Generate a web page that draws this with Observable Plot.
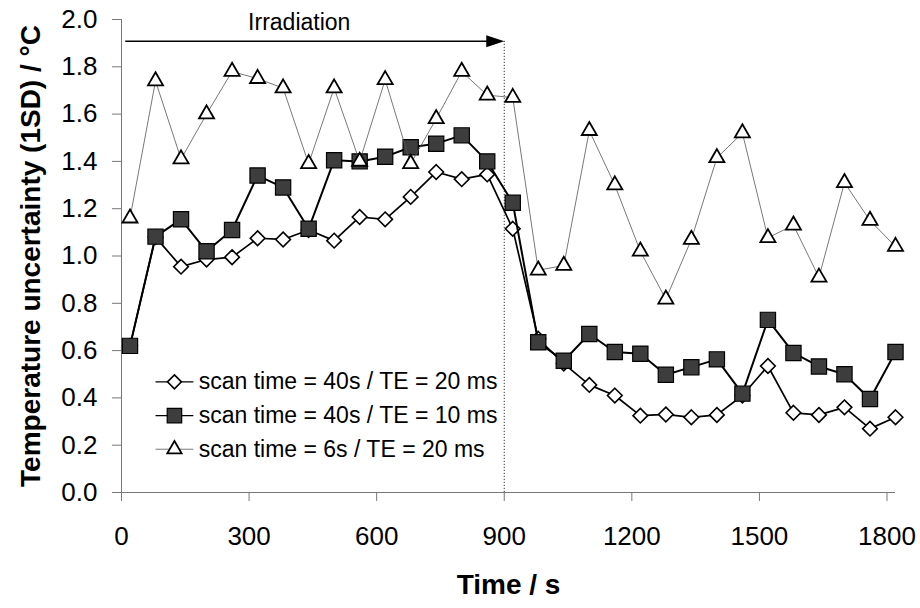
<!DOCTYPE html>
<html><head><meta charset="utf-8">
<script src="https://cdn.jsdelivr.net/npm/d3@7"></script>
<script src="https://cdn.jsdelivr.net/npm/@observablehq/plot@0.6"></script>
<style>body{margin:0;background:#fff}</style>
</head><body><div id="chart"></div>
<script>
// Time (s)
const times = [20, 80, 140, 200, 260, 320, 380, 440, 500, 560, 620, 680, 740, 800, 860, 920,
  980, 1040, 1100, 1160, 1220, 1280, 1340, 1400, 1460, 1520, 1580, 1640, 1700, 1760, 1820];
// scan time = 40s / TE = 20 ms (diamonds)
const te20_40s = [0.62, 1.08, 0.955, 0.985, 0.995, 1.075, 1.07, 1.11, 1.065, 1.165, 1.155, 1.25, 1.355, 1.325, 1.345, 1.115,
  0.65, 0.545, 0.455, 0.41, 0.325, 0.33, 0.318, 0.328, 0.41, 0.535, 0.337, 0.328, 0.36, 0.27, 0.318];
// scan time = 40s / TE = 10 ms (squares)
const te10_40s = [0.62, 1.082, 1.155, 1.02, 1.11, 1.34, 1.29, 1.115, 1.405, 1.40, 1.42, 1.46, 1.475, 1.51, 1.40, 1.225,
  0.635, 0.557, 0.67, 0.594, 0.587, 0.498, 0.53, 0.563, 0.418, 0.73, 0.59, 0.533, 0.50, 0.395, 0.594];
// scan time = 6s / TE = 20 ms (triangles)
const te20_6s = [1.16, 1.74, 1.41, 1.60, 1.78, 1.75, 1.71, 1.39, 1.71, 1.40, 1.745, 1.39, 1.58, 1.78, 1.68, 1.67,
  0.94, 0.96, 1.53, 1.30, 1.02, 0.817, 1.07, 1.415, 1.52, 1.077, 1.13, 0.91, 1.31, 1.15, 1.04];
const seriesLabels = ["scan time = 40s / TE = 20 ms", "scan time = 40s / TE = 10 ms", "scan time = 6s / TE = 20 ms"];
const xTicks = [0, 300, 600, 900, 1200, 1500, 1800];
const yTicks = [0, 0.2, 0.4, 0.6, 0.8, 1.0, 1.2, 1.4, 1.6, 1.8, 2.0];
const xTitle = "Time / s";
const yTitle = "Temperature uncertainty (1SD) / °C";
const irradiationLabel = "Irradiation";
const irradiationEnd = 900;

const series = [
  {values: te20_40s, label: seriesLabels[0], symbol: "diamond2", r: 6.6, fill: "white", mstroke: "black", msw: 1.6, line: "black", lw: 1.7, ly: 0.468},
  {values: te10_40s, label: seriesLabels[1], symbol: "square", r: 8.6, fill: "#3d3d3d", mstroke: "black", msw: 1.2, line: "black", lw: 2, ly: 0.325},
  {values: te20_6s, label: seriesLabels[2], symbol: "triangle", r: 5.6, fill: "white", mstroke: "black", msw: 1.8, line: "#555", lw: 0.8, ly: 0.183}
];

const arrowHead = {draw(ctx) { ctx.moveTo(0, 0); ctx.lineTo(-18, -6); ctx.lineTo(-18, 6); ctx.closePath(); }};
const arrowY = 1.908;

const marks = [
  Plot.ruleY([0], {stroke: "#777"}),
  Plot.ruleX([0], {stroke: "#777"}),
  Plot.axisX({ticks: xTicks, tickSize: 9, tickPadding: 25, fontSize: 26, label: null, tickFormat: d => String(d), stroke: "#777"}),
  Plot.axisY({ticks: yTicks, tickSize: 9, tickPadding: 15, fontSize: 26, label: null, tickFormat: d3.format(".1f"), stroke: "#777"}),
  Plot.ruleX([irradiationEnd], {y1: 0, y2: arrowY, stroke: "#333", strokeDasharray: "1.2,1.8"}),
  Plot.ruleY([arrowY], {x1: 10, x2: irradiationEnd - 20, stroke: "black", strokeWidth: 1.4}),
  Plot.dot([{x: irradiationEnd, y: arrowY}], {x: "x", y: "y", symbol: arrowHead, fill: "black", stroke: "none"}),
  Plot.text([{x: 418, y: 1.985, label: irradiationLabel}], {x: "x", y: "y", text: "label", fontSize: 23}),
  Plot.text([xTitle], {frameAnchor: "bottom", dy: 101, fontSize: 28, fontWeight: "bold"}),
  Plot.text([yTitle], {frameAnchor: "left", textAnchor: "middle", dx: -90, rotate: -90, fontSize: 28, fontWeight: "bold"})
];

for (const s of series) {
  const rows = times.map((t, i) => ({t, v: s.values[i]}));
  marks.push(Plot.line(rows, {x: "t", y: "v", stroke: s.line, strokeWidth: s.lw}));
  marks.push(Plot.dot(rows, {x: "t", y: "v", symbol: s.symbol, r: s.r, fill: s.fill, stroke: s.mstroke, strokeWidth: s.msw}));
  const leg = [{x1: 80, x2: 169, xm: 124.5, xt: 181.5, y: s.ly, label: s.label}];
  marks.push(Plot.link(leg, {x1: "x1", x2: "x2", y1: "y", y2: "y", stroke: s.line, strokeWidth: Math.min(s.lw, 1.2)}));
  marks.push(Plot.dot(leg, {x: "xm", y: "y", symbol: s.symbol, r: s.r * 0.95, fill: s.fill, stroke: s.mstroke, strokeWidth: s.msw}));
  marks.push(Plot.text(leg, {x: "xt", y: "y", text: "label", textAnchor: "start", fontSize: 23}));
}

const chart = Plot.plot({
  width: 920,
  height: 608,
  marginLeft: 121,
  marginRight: 25,
  marginTop: 19,
  marginBottom: 116,
  x: {domain: [0, 1820]},
  y: {domain: [0, 2]},
  style: {fontFamily: "'Liberation Sans', Arial, sans-serif", background: "white", color: "black", overflow: "visible"},
  marks
});
document.getElementById("chart").appendChild(chart);
</script>
</body></html>
